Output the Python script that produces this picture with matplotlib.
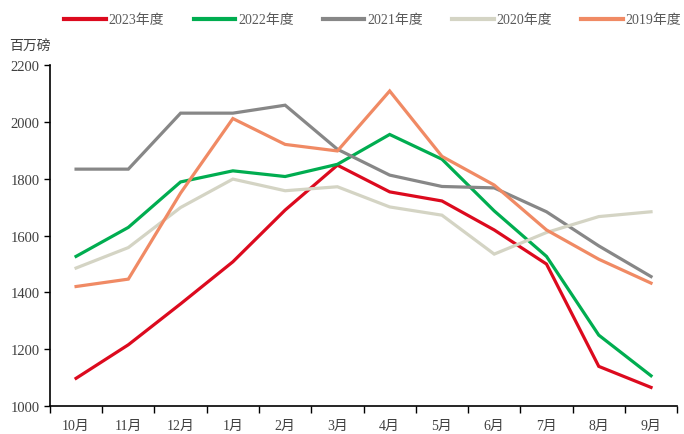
import numpy as np
import matplotlib.pyplot as plt

plt.rcParams['font.family'] = ['Liberation Serif', 'Noto Sans CJK SC']

months = ['10月', '11月', '12月', '1月', '2月', '3月', '4月', '5月', '6月', '7月', '8月', '9月']

fy2023 = [1098, 1216, 1360, 1508, 1690, 1848, 1754, 1722, 1620, 1500, 1140, 1066]
fy2022 = [1527, 1629, 1789, 1828, 1808, 1851, 1956, 1869, 1687, 1527, 1250, 1107]
fy2021 = [1834, 1834, 2031, 2031, 2059, 1904, 1813, 1773, 1768, 1684, 1564, 1456]
fy2020 = [1486, 1558, 1699, 1799, 1758, 1772, 1701, 1672, 1535, 1611, 1667, 1684]
fy2019 = [1421, 1447, 1750, 2012, 1921, 1898, 2109, 1879, 1778, 1620, 1517, 1433]

series = [
    ('2023年度', fy2023, '#DC0A1E'),
    ('2022年度', fy2022, '#00AD50'),
    ('2021年度', fy2021, '#878787'),
    ('2020年度', fy2020, '#D4D4C4'),
    ('2019年度', fy2019, '#F08A64'),
]

fig = plt.figure(figsize=(6.84, 4.35), dpi=100)
ax = fig.add_axes([0.073, 0.064, 0.917, 0.784])

x = np.arange(len(months))
for name, vals, col in series:
    ax.plot(x, vals, color=col, lw=2.3, label=name, solid_joinstyle='miter')

ax.set_xlim(-0.5, len(months) - 0.5)
ax.set_ylim(1000, 2200)
ax.set_yticks(np.arange(1000, 2201, 200))

# category ticks sit on the boundaries, labels in the middle
ax.set_xticks(np.arange(-0.5, len(months), 1.0))
ax.set_xticklabels([])
ax.set_xticks(x, minor=True)
ax.set_xticklabels(months, minor=True)
ax.tick_params(axis='x', which='major', direction='out', length=5, width=1)
ax.tick_params(axis='x', which='minor', length=0, pad=9, labelsize=10, labelcolor='#404040')
ax.tick_params(axis='y', direction='out', length=4, width=1, labelsize=10.5, labelcolor='#404040')

for s in ['top', 'right']:
    ax.spines[s].set_visible(False)
for s in ['left', 'bottom']:
    ax.spines[s].set_linewidth(1.2)

fig.text(0.013, 0.885, '百万磅', fontsize=10, color='#404040')

leg = fig.legend(loc='center', bbox_to_anchor=(0.545, 0.952), ncol=5, frameon=False,
                 fontsize=10, handlelength=3.0, handletextpad=0.2, columnspacing=2.1)
for t in leg.get_texts():
    t.set_color('#595959')
for h in leg.get_lines():
    h.set_linewidth(3)

fig.savefig('out.png', dpi=100)
